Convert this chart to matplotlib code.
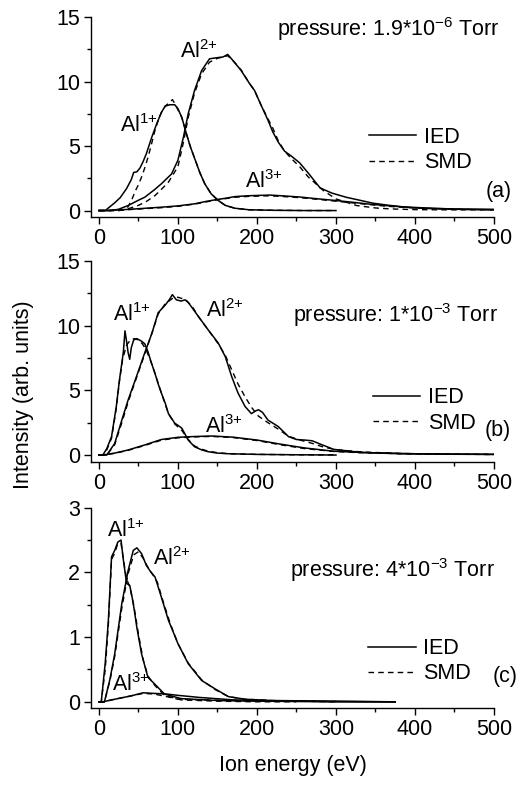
import matplotlib
matplotlib.use("Agg")
import matplotlib.pyplot as plt
from matplotlib.ticker import MultipleLocator

plt.rcParams['font.family'] = ['Liberation Sans', 'DejaVu Sans']
plt.rcParams['mathtext.fontset'] = 'custom'
plt.rcParams['mathtext.rm'] = 'Liberation Sans'
plt.rcParams['mathtext.it'] = 'Liberation Sans:italic'
plt.rcParams['mathtext.bf'] = 'Liberation Sans:bold'

FS = 15.5

# ---------------- Panel (a): 1.9e-6 Torr ----------------
a1_ied_E = [0, 8, 20, 27, 35, 41, 44, 48, 52, 56, 60, 67, 73, 79, 84, 90, 96, 100, 105, 111, 116, 122, 128, 134, 142, 151, 160, 172, 190, 220, 260, 300]
a1_ied_I = [0, 0, 0.6, 1.0, 1.7, 2.4, 2.95, 3.0, 3.3, 3.8, 4.4, 5.7, 6.7, 7.6, 8.1, 8.2, 8.2, 7.9, 7.2, 5.9, 4.9, 3.9, 2.9, 2.07, 1.3, 0.78, 0.4, 0.18, 0.06, 0.02, 0.0, 0.0]
a1_smd_E = [0, 25, 32, 37, 42, 46, 50, 54, 58, 62, 66, 70, 74, 79, 84, 88, 93, 97, 100, 105, 111, 116, 122, 128, 134, 142, 151, 160, 172, 190, 220, 260, 300]
a1_smd_I = [0, 0, 0.05, 0.3, 0.9, 1.5, 2.0, 2.6, 3.3, 4.1, 5.0, 6.0, 6.8, 7.6, 8.1, 8.3, 8.6, 8.2, 7.8, 7.2, 5.9, 4.9, 3.9, 2.9, 2.07, 1.3, 0.78, 0.4, 0.18, 0.06, 0.02, 0.0, 0.0]

a2_ied_E = [0, 15, 25, 37, 50, 58, 70, 79, 92, 100, 107, 113, 121, 130, 140, 150, 157, 163, 170, 180, 190, 197, 205, 214, 220, 227, 235, 244, 254, 265, 280, 295, 313, 330, 347, 365, 381, 400, 450, 500]
a2_ied_I = [0, 0, 0.1, 0.39, 0.8, 1.03, 1.6, 2.07, 2.84, 3.9, 5.7, 7.5, 9.3, 10.85, 11.76, 11.85, 11.9, 12.1, 11.6, 10.85, 9.9, 9.3, 8.2, 7.0, 6.1, 5.3, 4.6, 4.2, 3.7, 2.9, 1.75, 1.35, 1.03, 0.8, 0.57, 0.42, 0.31, 0.2, 0.12, 0.08]
a2_smd_E = [0, 25, 35, 50, 60, 71, 80, 88, 100, 107, 113, 121, 130, 140, 150, 157, 163, 170, 180, 190, 197, 205, 214, 220, 227, 235, 244, 254, 265, 284, 300, 326, 350, 368, 400, 450, 500]
a2_smd_I = [0, 0, 0.1, 0.4, 0.7, 1.16, 1.7, 2.2, 3.4, 5.3, 7.2, 9.1, 10.6, 11.5, 11.8, 11.9, 12.0, 11.6, 10.9, 9.9, 9.3, 8.2, 7.1, 6.4, 5.4, 4.6, 4.0, 3.4, 2.6, 1.55, 0.9, 0.39, 0.2, 0.13, 0.07, 0.05, 0.05]

a3_ied_E = [0, 10, 40, 79, 100, 121, 135, 147, 160, 172, 190, 206, 216, 230, 254, 275, 296, 320, 339, 360, 381, 423, 460, 500]
a3_ied_I = [0, 0, 0.1, 0.26, 0.36, 0.52, 0.7, 0.83, 0.95, 1.08, 1.15, 1.18, 1.2, 1.15, 1.05, 0.92, 0.8, 0.65, 0.52, 0.4, 0.3, 0.17, 0.1, 0.08]
a3_smd_E = [0, 10, 40, 79, 100, 121, 135, 147, 160, 172, 190, 206, 216, 230, 254, 275, 296, 320, 339, 360, 381, 423, 460, 500]
a3_smd_I = [0, 0, 0.08, 0.22, 0.33, 0.5, 0.66, 0.8, 0.92, 1.03, 1.1, 1.13, 1.14, 1.1, 1.0, 0.88, 0.75, 0.6, 0.48, 0.36, 0.26, 0.14, 0.08, 0.05]

# ---------------- Panel (b): 1e-3 Torr ----------------
b1_ied_E = [0, 5, 10, 16, 22, 26, 29, 31, 33, 35, 37, 39, 41, 44, 48, 54, 58, 62, 66, 71, 75, 79, 84, 88, 96, 100, 105, 113, 121, 130, 138, 150, 164, 200, 250, 300]
b1_ied_I = [0, 0, 0.5, 1.42, 3.75, 5.8, 7.1, 8.0, 9.6, 8.8, 7.9, 7.4, 8.3, 8.9, 9.0, 8.8, 8.6, 8.0, 7.2, 6.3, 5.5, 4.8, 4.0, 3.2, 2.46, 2.3, 2.07, 1.16, 0.64, 0.4, 0.26, 0.15, 0.1, 0.05, 0.02, 0.0]
b1_smd_E = [0, 5, 10, 16, 22, 26, 30, 35, 40, 45, 50, 55, 60, 66, 71, 79, 88, 96, 105, 113, 121, 130, 138, 150, 164, 200, 250, 300]
b1_smd_I = [0, 0, 0.4, 1.3, 3.6, 5.7, 7.4, 8.5, 8.9, 9.0, 8.9, 8.6, 8.1, 7.2, 6.3, 4.8, 3.2, 2.4, 1.9, 1.2, 0.7, 0.45, 0.3, 0.18, 0.1, 0.05, 0.02, 0.01]

b2_ied_E = [0, 10, 20, 29, 37, 46, 58, 67, 75, 84, 89, 93, 98, 104, 109, 113, 119, 126, 138, 151, 160, 168, 176, 185, 193, 198, 202, 207, 214, 227, 240, 250, 262, 270, 280, 297, 320, 339, 381, 450, 500]
b2_ied_I = [0, 0, 0.9, 2.7, 4.26, 5.8, 7.9, 9.4, 11.0, 11.6, 12.0, 12.4, 12.0, 11.9, 12.0, 11.8, 11.3, 10.7, 9.7, 8.66, 7.6, 6.07, 4.8, 3.75, 3.2, 3.4, 3.5, 3.3, 2.7, 2.2, 1.42, 1.2, 1.15, 1.1, 0.85, 0.44, 0.28, 0.18, 0.1, 0.06, 0.05]
b2_smd_E = [0, 10, 20, 29, 37, 46, 58, 67, 75, 84, 93, 100, 110, 119, 126, 138, 151, 160, 168, 176, 185, 193, 202, 214, 227, 240, 255, 270, 285, 300, 330, 380, 450, 500]
b2_smd_I = [0, 0, 0.8, 2.5, 4.1, 5.7, 7.8, 9.4, 10.9, 11.7, 12.1, 12.2, 12.0, 11.4, 10.7, 9.7, 8.6, 7.7, 6.6, 5.5, 4.5, 3.7, 3.0, 2.5, 2.0, 1.45, 1.15, 0.9, 0.6, 0.42, 0.25, 0.12, 0.06, 0.05]

b3_ied_E = [0, 5, 20, 37, 58, 79, 100, 120, 143, 170, 200, 229, 260, 296, 330, 400, 500]
b3_ied_I = [0, 0, 0.15, 0.39, 0.78, 1.2, 1.37, 1.43, 1.47, 1.38, 1.16, 0.85, 0.55, 0.3, 0.2, 0.1, 0.05]
b3_smd_E = [0, 5, 20, 37, 58, 79, 100, 120, 143, 170, 200, 229, 260, 296, 330, 400, 500]
b3_smd_I = [0, 0, 0.13, 0.36, 0.74, 1.15, 1.33, 1.4, 1.44, 1.35, 1.12, 0.8, 0.5, 0.28, 0.18, 0.08, 0.04]

# ---------------- Panel (c): 4e-3 Torr ----------------
c1_ied_E = [0, 3, 8, 12, 16, 20, 24, 28, 31, 35, 39, 42, 45, 48, 54, 62, 71, 83, 104, 150, 200, 300, 375]
c1_ied_I = [0, 0, 0.6, 1.26, 2.24, 2.34, 2.47, 2.5, 2.19, 1.83, 1.8, 1.62, 1.4, 1.15, 0.74, 0.38, 0.27, 0.12, 0.05, 0.02, 0.01, 0.0, 0.0]
c1_smd_E = [0, 3, 8, 12, 16, 20, 24, 28, 31, 35, 39, 44, 50, 56, 62, 71, 83, 104, 150, 200, 250]
c1_smd_I = [0, 0, 0.5, 1.2, 2.2, 2.3, 2.45, 2.45, 2.2, 1.9, 1.78, 1.5, 1.05, 0.65, 0.4, 0.25, 0.1, 0.03, 0.01, 0.0, 0.0]

c2_ied_E = [0, 7, 14, 20, 29, 37, 43.5, 48, 54, 60, 66, 71, 79, 88, 100, 113, 130, 147, 164, 185, 220, 300, 375]
c2_ied_I = [0, 0, 0.35, 0.74, 1.52, 2.03, 2.34, 2.38, 2.29, 2.11, 2.0, 1.93, 1.62, 1.26, 0.9, 0.59, 0.33, 0.2, 0.08, 0.04, 0.02, 0.01, 0.0]
c2_smd_E = [0, 7, 14, 20, 29, 37, 44, 50, 56, 62, 68, 74, 80, 90, 100, 113, 130, 147, 164, 185, 220, 300]
c2_smd_I = [0, 0, 0.33, 0.7, 1.45, 1.98, 2.27, 2.32, 2.22, 2.08, 1.97, 1.85, 1.6, 1.22, 0.9, 0.6, 0.34, 0.19, 0.08, 0.04, 0.02, 0.0]

c3_ied_E = [0, 5, 20, 40, 56, 70, 86, 100, 128, 170, 220, 300, 375]
c3_ied_I = [0, 0, 0.04, 0.09, 0.14, 0.13, 0.12, 0.1, 0.067, 0.03, 0.015, 0.005, 0.0]
c3_smd_E = [0, 5, 20, 40, 56, 70, 86, 100, 128, 170, 220, 300]
c3_smd_I = [0, 0, 0.04, 0.09, 0.13, 0.12, 0.08, 0.04, 0.03, 0.02, 0.01, 0.005]

ion_labels = ["Al$^{1{+}}$", "Al$^{2{+}}$", "Al$^{3{+}}$"]
pressures = ["pressure: 1.9*10$^{-6}$ Torr", "pressure: 1*10$^{-3}$ Torr", "pressure: 4*10$^{-3}$ Torr"]
panel_tags = ["(a)", "(b)", "(c)"]
ymax = [15, 15, 3]
ymajor = [5, 5, 1]

panels = [
    [(a1_ied_E, a1_ied_I, a1_smd_E, a1_smd_I), (a2_ied_E, a2_ied_I, a2_smd_E, a2_smd_I), (a3_ied_E, a3_ied_I, a3_smd_E, a3_smd_I)],
    [(b1_ied_E, b1_ied_I, b1_smd_E, b1_smd_I), (b2_ied_E, b2_ied_I, b2_smd_E, b2_smd_I), (b3_ied_E, b3_ied_I, b3_smd_E, b3_smd_I)],
    [(c1_ied_E, c1_ied_I, c1_smd_E, c1_smd_I), (c2_ied_E, c2_ied_I, c2_smd_E, c2_smd_I), (c3_ied_E, c3_ied_I, c3_smd_E, c3_smd_I)],
]

# label positions (data coords) per panel
ion_pos = [
    [(26.6, 6.07), (102.5, 11.8), (185, 1.73)],
    [(18, 10.4), (136, 10.67), (134, 1.73)],
    [(9.7, 2.54), (68.7, 2.11), (16, 0.17)],
]
press_pos = [(0.461, 0.905), (0.501, 0.697), (0.494, 0.653)]
legend_top = [0.45, 0.37, 0.35]
legend_x = [0.69, 0.70, 0.688]
tag_pos = [(1.012, 0.13), (1.009, 0.157), (1.028, 0.158)]

fig = plt.figure(figsize=(5.21, 7.9), dpi=100)
W, H = 521, 790
left = 91 / W
width = (494 - 91) / W
tops = [17, 261, 507.7]
bottoms = [217, 461.5, 708.3]

for k in range(3):
    ax = fig.add_axes([left, 1 - bottoms[k] / H, width, (bottoms[k] - tops[k]) / H])
    for (ie, ii, se, si) in panels[k]:
        l1, = ax.plot(ie, ii, color='black', lw=1.1, solid_joinstyle='round')
        l2, = ax.plot(se, si, color='black', lw=1.0, ls=(0, (4, 3)))
    ax.set_xlim(-10, 500)
    ax.set_ylim(-ymax[k] / 30, ymax[k])
    ax.spines['top'].set_visible(False)
    ax.spines['right'].set_visible(False)
    ax.spines['left'].set_linewidth(1.0)
    ax.spines['bottom'].set_linewidth(1.0)
    ax.xaxis.set_major_locator(MultipleLocator(100))
    ax.xaxis.set_minor_locator(MultipleLocator(50))
    ax.yaxis.set_major_locator(MultipleLocator(ymajor[k]))
    ax.yaxis.set_minor_locator(MultipleLocator(ymajor[k] / 2))
    ax.tick_params(which='major', direction='out', length=5, width=1.0, labelsize=FS, pad=3)
    ax.tick_params(which='minor', direction='out', length=3, width=1.0)
    for j in range(3):
        ax.text(ion_pos[k][j][0], ion_pos[k][j][1], ion_labels[j], fontsize=FS,
                ha='left', va='baseline')
    ax.text(press_pos[k][0], press_pos[k][1], pressures[k], transform=ax.transAxes,
            fontsize=FS, ha='left', va='baseline', clip_on=False)
    ax.text(tag_pos[k][0], tag_pos[k][1], panel_tags[k], transform=ax.transAxes,
            fontsize=FS, ha='center', va='center', clip_on=False)
    ax.legend([l1, l2], ['IED', 'SMD'], loc='upper left',
              bbox_to_anchor=(legend_x[k], legend_top[k]), frameon=False,
              fontsize=FS, handlelength=2.2, handletextpad=0.35, labelspacing=0.2,
              borderpad=0, borderaxespad=0)

fig.text(24 / W, 0.5, 'Intensity (arb. units)', rotation=90, fontsize=FS,
         ha='center', va='center')
fig.text((91 + 494) / 2 / W, 1 - 766 / H, 'Ion energy (eV)', fontsize=FS,
         ha='center', va='center')

fig.savefig('out.png', dpi=100)
